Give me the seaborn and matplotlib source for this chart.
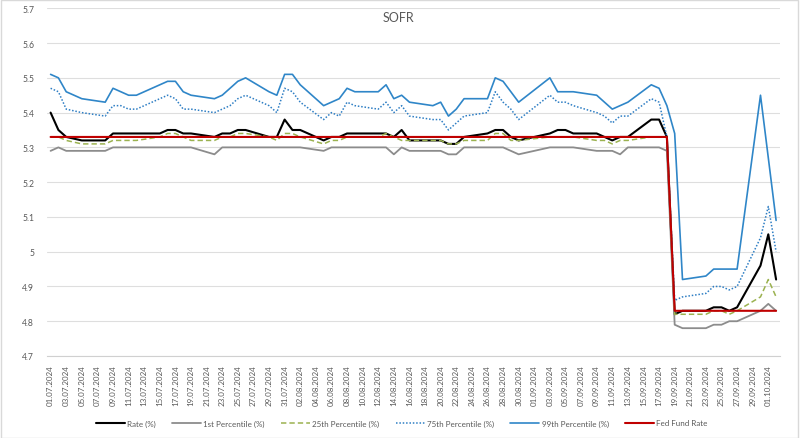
import matplotlib
matplotlib.use("Agg")
import matplotlib.pyplot as plt
import matplotlib.dates as mdates
from matplotlib.lines import Line2D
from matplotlib.patches import Rectangle
from matplotlib.ticker import FixedLocator, FuncFormatter
import seaborn as sns
import pandas as pd
import numpy as np

# ---------------- data (business days) ----------------
dates = ["01.07.2024", "02.07.2024", "03.07.2024", "05.07.2024", "08.07.2024", "09.07.2024",
         "10.07.2024", "11.07.2024", "12.07.2024", "15.07.2024", "16.07.2024", "17.07.2024",
         "18.07.2024", "19.07.2024", "22.07.2024", "23.07.2024", "24.07.2024", "25.07.2024",
         "26.07.2024", "29.07.2024", "30.07.2024", "31.07.2024",
         "01.08.2024", "02.08.2024", "05.08.2024", "06.08.2024", "07.08.2024", "08.08.2024",
         "09.08.2024", "12.08.2024", "13.08.2024", "14.08.2024", "15.08.2024", "16.08.2024",
         "19.08.2024", "20.08.2024", "21.08.2024", "22.08.2024", "23.08.2024", "26.08.2024",
         "27.08.2024", "28.08.2024", "29.08.2024", "30.08.2024",
         "03.09.2024", "04.09.2024", "05.09.2024", "06.09.2024", "09.09.2024", "10.09.2024",
         "11.09.2024", "12.09.2024", "13.09.2024", "16.09.2024", "17.09.2024", "18.09.2024",
         "19.09.2024", "20.09.2024", "23.09.2024", "24.09.2024", "25.09.2024", "26.09.2024",
         "27.09.2024", "30.09.2024",
         "01.10.2024", "02.10.2024"]

rate = [5.40, 5.35, 5.33, 5.32, 5.32, 5.34, 5.34, 5.34, 5.34, 5.34, 5.35, 5.35, 5.34, 5.34,
        5.33, 5.34, 5.34, 5.35, 5.35, 5.33, 5.33, 5.38,
        5.35, 5.35, 5.32, 5.33, 5.33, 5.34, 5.34, 5.34, 5.34, 5.33, 5.35, 5.32, 5.32, 5.32,
        5.31, 5.31, 5.33, 5.34, 5.35, 5.35, 5.33, 5.32,
        5.34, 5.35, 5.35, 5.34, 5.34, 5.33, 5.32, 5.33, 5.33, 5.38, 5.38, 5.33, 4.82, 4.83,
        4.83, 4.84, 4.84, 4.83, 4.84, 4.96,
        5.05, 4.92]

p1 = [5.29, 5.30, 5.29, 5.29, 5.29, 5.30, 5.30, 5.30, 5.30, 5.30, 5.30, 5.30, 5.30, 5.30,
      5.28, 5.30, 5.30, 5.30, 5.30, 5.30, 5.30, 5.30,
      5.30, 5.30, 5.29, 5.30, 5.30, 5.30, 5.30, 5.30, 5.30, 5.28, 5.30, 5.29, 5.29, 5.29,
      5.28, 5.28, 5.30, 5.30, 5.30, 5.30, 5.29, 5.28,
      5.30, 5.30, 5.30, 5.30, 5.29, 5.29, 5.29, 5.28, 5.30, 5.30, 5.30, 5.29, 4.79, 4.78,
      4.78, 4.79, 4.79, 4.80, 4.80, 4.83,
      4.85, 4.83]

p25 = [5.33, 5.33, 5.32, 5.31, 5.31, 5.32, 5.32, 5.32, 5.32, 5.33, 5.34, 5.34, 5.33, 5.32,
       5.32, 5.33, 5.33, 5.34, 5.34, 5.33, 5.32, 5.34,
       5.34, 5.33, 5.31, 5.32, 5.32, 5.33, 5.33, 5.33, 5.34, 5.33, 5.32, 5.32, 5.32, 5.32,
       5.31, 5.31, 5.32, 5.32, 5.34, 5.34, 5.32, 5.32,
       5.33, 5.33, 5.33, 5.33, 5.32, 5.32, 5.31, 5.32, 5.32, 5.33, 5.33, 5.33, 4.82, 4.82,
       4.82, 4.83, 4.83, 4.82, 4.83, 4.87,
       4.92, 4.87]

p75 = [5.47, 5.46, 5.41, 5.40, 5.39, 5.42, 5.42, 5.41, 5.41, 5.44, 5.45, 5.44, 5.41, 5.41,
       5.40, 5.41, 5.42, 5.44, 5.45, 5.42, 5.40, 5.47,
       5.46, 5.43, 5.38, 5.40, 5.39, 5.43, 5.42, 5.41, 5.43, 5.40, 5.42, 5.39, 5.38, 5.38,
       5.35, 5.37, 5.39, 5.40, 5.46, 5.43, 5.41, 5.38,
       5.45, 5.43, 5.43, 5.42, 5.40, 5.39, 5.37, 5.39, 5.39, 5.44, 5.43, 5.33, 4.86, 4.87,
       4.88, 4.90, 4.90, 4.89, 4.90, 5.04,
       5.13, 5.00]

p99 = [5.51, 5.50, 5.46, 5.44, 5.43, 5.47, 5.46, 5.45, 5.45, 5.48, 5.49, 5.49, 5.46, 5.45,
       5.44, 5.45, 5.47, 5.49, 5.50, 5.46, 5.45, 5.51,
       5.51, 5.48, 5.42, 5.43, 5.44, 5.47, 5.46, 5.46, 5.48, 5.44, 5.45, 5.43, 5.42, 5.43,
       5.39, 5.41, 5.44, 5.44, 5.50, 5.49, 5.46, 5.43,
       5.50, 5.46, 5.46, 5.46, 5.45, 5.43, 5.41, 5.42, 5.43, 5.48, 5.47, 5.42, 5.34, 4.92,
       4.93, 4.95, 4.95, 4.95, 4.95, 5.45,
       5.27, 5.09]

fed = [5.33, 5.33, 5.33, 5.33, 5.33, 5.33, 5.33, 5.33, 5.33, 5.33, 5.33, 5.33, 5.33, 5.33,
       5.33, 5.33, 5.33, 5.33, 5.33, 5.33, 5.33, 5.33,
       5.33, 5.33, 5.33, 5.33, 5.33, 5.33, 5.33, 5.33, 5.33, 5.33, 5.33, 5.33, 5.33, 5.33,
       5.33, 5.33, 5.33, 5.33, 5.33, 5.33, 5.33, 5.33,
       5.33, 5.33, 5.33, 5.33, 5.33, 5.33, 5.33, 5.33, 5.33, 5.33, 5.33, 5.33, 4.83, 4.83,
       4.83, 4.83, 4.83, 4.83, 4.83, 4.83,
       4.83, 4.83]

series_names = ["Rate (%)", "1st Percentile (%)", "25th Percentile (%)",
                "75th Percentile (%)", "99th Percentile (%)", "Fed Fund Rate"]
y_ticks = [4.7, 4.8, 4.9, 5.0, 5.1, 5.2, 5.3, 5.4, 5.5, 5.6, 5.7]
title = "SOFR"

# ---------------- styling ----------------
sns.set_style("white")
plt.rcParams["font.family"] = ["Lato", "DejaVu Sans"]

df = pd.DataFrame({"date": pd.to_datetime(dates, format="%d.%m.%Y"),
                   series_names[0]: rate, series_names[1]: p1, series_names[2]: p25,
                   series_names[3]: p75, series_names[4]: p99, series_names[5]: fed})

styles = {
    series_names[0]: dict(color="#000000", linewidth=1.5, linestyle="-"),
    series_names[1]: dict(color="#8c8c8c", linewidth=1.3, linestyle="-"),
    series_names[2]: dict(color="#9bb250", linewidth=1.1, linestyle=(0, (3.5, 2))),
    series_names[3]: dict(color="#2e7ec4", linewidth=1.1, linestyle=(0, (1, 1.2))),
    series_names[4]: dict(color="#2f86c8", linewidth=1.2, linestyle="-"),
    series_names[5]: dict(color="#c00000", linewidth=1.5, linestyle="-"),
}

W, H = 800, 439
fig = plt.figure(figsize=(W / 100, H / 100), dpi=100)
left, right = 46.7 / W, 780 / W
bottom, top = 1 - 357 / H, 1 - 9.3 / H
ax = fig.add_axes([left, bottom, right - left, top - bottom])

for name in series_names:
    st = styles[name]
    sns.lineplot(data=df, x="date", y=name, ax=ax, color=st["color"],
                 linewidth=st["linewidth"], linestyle=st["linestyle"], legend=False)

# axes limits
d0 = mdates.date2num(df["date"].iloc[0])
d_end = mdates.date2num(df["date"].iloc[-1])
ax.set_xlim(d0 - 0.5, d_end + 0.5)
ax.set_ylim(y_ticks[0], y_ticks[-1])

# y axis
ax.set_yticks(y_ticks)
ax.yaxis.set_major_formatter(FuncFormatter(lambda v, p: f"{v:g}"))
ax.tick_params(axis="y", length=0, labelsize=6.2, labelcolor="#595959", pad=9)
ax.grid(axis="y", color="#dedede", linewidth=0.8, linestyle="-")
ax.set_axisbelow(True)

# x axis: labels every two calendar days, tick marks at slot boundaries
label_pos = np.arange(d0, d_end, 2)
ax.xaxis.set_major_locator(FixedLocator(label_pos))
ax.xaxis.set_major_formatter(mdates.DateFormatter("%d.%m.%Y"))
ax.xaxis.set_minor_locator(FixedLocator(np.arange(d0 - 0.5, d_end + 0.6, 2)))
ax.tick_params(axis="x", which="major", length=0, labelsize=5.8, labelcolor="#595959",
               rotation=90, pad=6)
ax.tick_params(axis="x", which="minor", length=4, color="#d0d0d0", width=0.8)
for lbl in ax.get_xticklabels():
    lbl.set_horizontalalignment("center")

ax.set_xlabel("")
ax.set_ylabel("")
for s in ["left", "right", "top"]:
    ax.spines[s].set_visible(False)
ax.spines["bottom"].set_color("#d0d0d0")
ax.spines["bottom"].set_linewidth(0.8)

# title
fig.text(0.4985, 1 - 18 / H, title, ha="center", va="center", fontsize=9, color="#595959")

# legend
handles = [Line2D([0], [0], color=styles[n]["color"], linewidth=styles[n]["linewidth"],
                  linestyle=styles[n]["linestyle"]) for n in series_names]
fig.legend(handles, series_names, loc="center", bbox_to_anchor=(0.502, 1 - 424 / H),
           ncol=6, frameon=False, fontsize=5.8, handlelength=3.6, handletextpad=0.3,
           columnspacing=2.0, labelcolor="#595959")

# chart border
fig.patches.append(Rectangle((0.001, 0.001), 0.997, 0.996, transform=fig.transFigure,
                             fill=False, edgecolor="#d9d9d9", linewidth=1))

fig.savefig("out.png", dpi=100)
